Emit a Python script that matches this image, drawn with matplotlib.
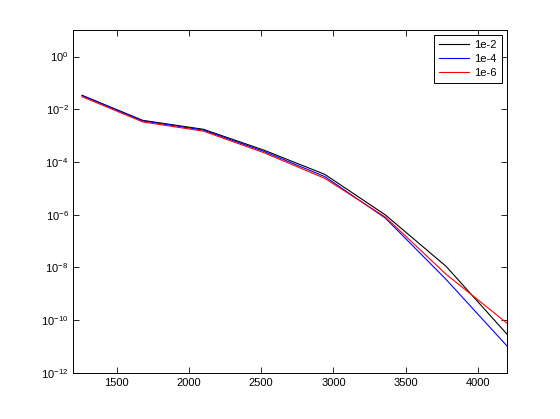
import numpy as np
import matplotlib
matplotlib.use('Agg')
import matplotlib.pyplot as plt
from matplotlib.ticker import LogFormatterSciNotation, NullLocator

# Datos
x = [1260, 1680, 2100, 2520, 2940, 3360, 3780, 4200]
err_1e2 = [3.4e-2, 3.8e-3, 1.74e-3, 2.8e-4, 3.4e-5, 9.8e-7, 1.1e-8, 3.0e-11]
err_1e4 = [3.3e-2, 3.6e-3, 1.62e-3, 2.5e-4, 2.8e-5, 7.4e-7, 3.5e-9, 1.07e-11]
err_1e6 = [3.0e-2, 3.3e-3, 1.48e-3, 2.24e-4, 2.4e-5, 8.1e-7, 5.5e-9, 7.8e-11]
labels = ['1e-2', '1e-4', '1e-6']
y_ticks = [1e-12, 1e-10, 1e-8, 1e-6, 1e-4, 1e-2, 1e0]
x_ticks = [1500, 2000, 2500, 3000, 3500, 4000]

plt.rcParams['font.family'] = ['Liberation Sans', 'DejaVu Sans']
plt.rcParams['mathtext.fontset'] = 'custom'
plt.rcParams['mathtext.rm'] = 'Liberation Sans'

fig = plt.figure(figsize=(5.6, 4.19), dpi=100)
ax = fig.add_axes([0.131, 0.110, 0.774, 0.818])

ax.semilogy(x, err_1e2, color='black', lw=0.8, label=labels[0])
ax.semilogy(x, err_1e4, color='blue', lw=0.8, label=labels[1])
ax.semilogy(x, err_1e6, color='red', lw=0.8, label=labels[2])

ax.set_xlim(1200, 4200)
ax.set_ylim(1e-12, 1e1)
ax.set_xticks(x_ticks)
ax.set_yticks(y_ticks)
ax.yaxis.set_major_formatter(LogFormatterSciNotation())
ax.yaxis.set_minor_locator(NullLocator())

ax.tick_params(direction='in', length=4, width=0.6, top=True, right=True,
               labelsize=8, colors='black')
for s in ax.spines.values():
    s.set_linewidth(0.7)

leg = ax.legend(loc='upper right', fontsize=8, handlelength=2.7,
                handletextpad=0.5, fancybox=False, edgecolor='black',
                framealpha=1, borderpad=0.45, labelspacing=0.35,
                borderaxespad=0.45)
leg.get_frame().set_linewidth(0.7)

plt.savefig('out.png', dpi=100)
plt.close(fig)
